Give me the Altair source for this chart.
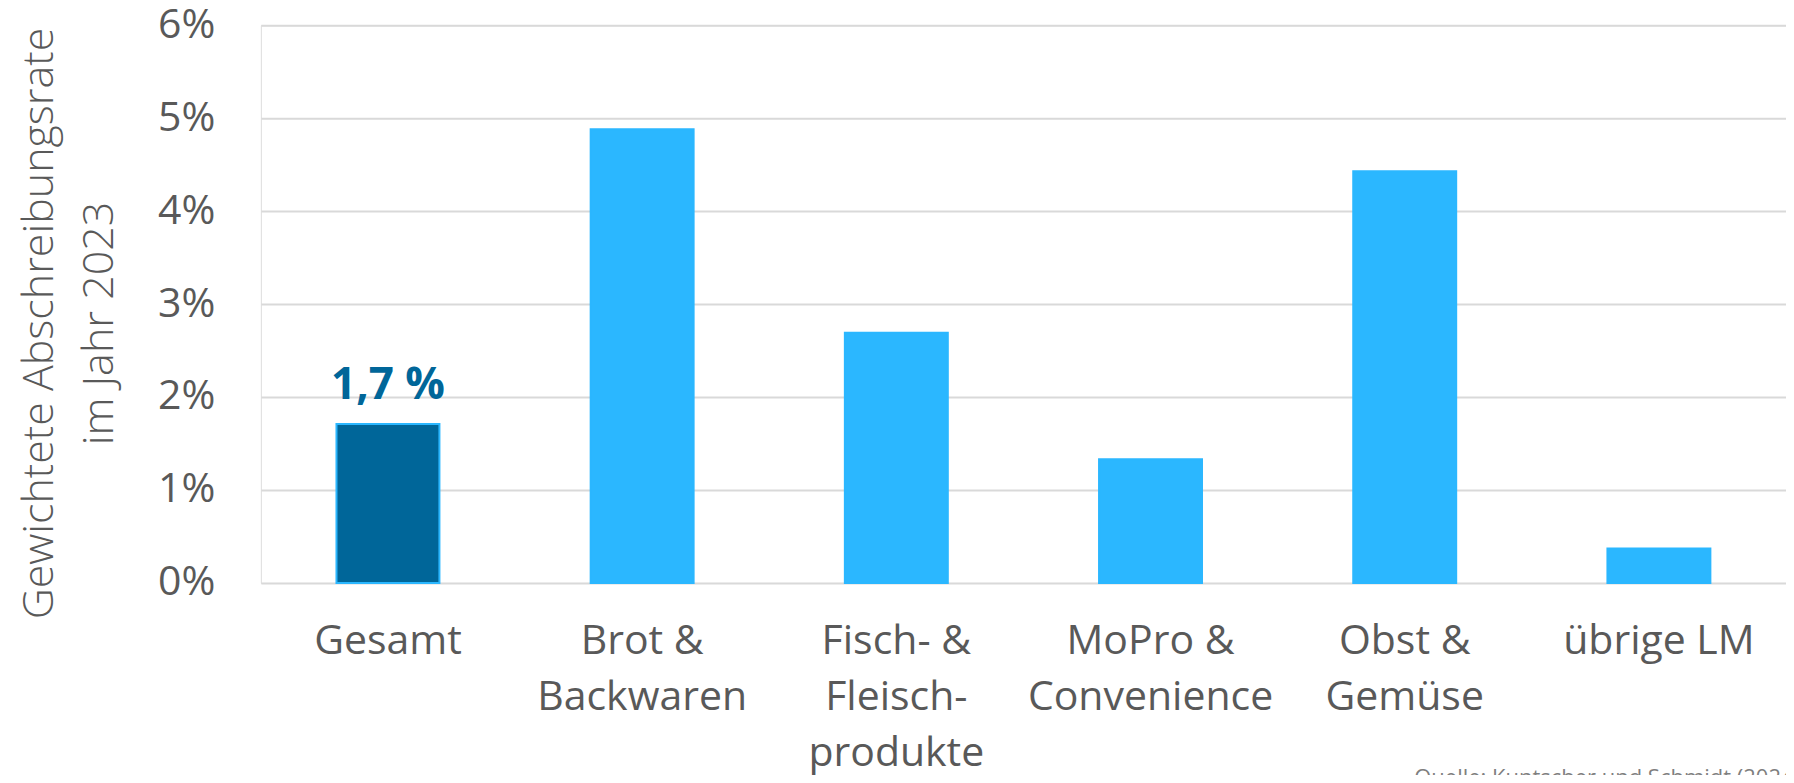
import altair as alt
import pandas as pd

categories = ["Gesamt", "Brot &|Backwaren", "Fisch- &|Fleisch-|produkte",
              "MoPro &|Convenience", "Obst &|Gemüse", "übrige LM"]
values = [0.0171, 0.0488, 0.0269, 0.0133, 0.0443, 0.0037]
highlight_label = "1,7 %"
y_ticks = [0, 0.01, 0.02, 0.03, 0.04, 0.05, 0.06]
y_title = ["Gewichtete Abschreibungsrate", "im Jahr 2023"]
source_text = "Quelle: Kuntscher und Schmidt (2024)"

df = pd.DataFrame({"cat": categories, "val": values})
df["label"] = [highlight_label if c == "Gesamt" else "" for c in categories]

W, H = 1526, 558
FONT = "Open Sans"
GREY = "#595959"

x_enc = alt.X("cat:N", sort=categories,
              scale=alt.Scale(paddingInner=0.595, paddingOuter=0.2975),
              axis=alt.Axis(title=None, labelAngle=0, labelFontSize=41, labelColor=GREY,
                            labelFont=FONT, labelPadding=39, labelLineHeight=56,
                            labelLimit=0,
                            labelExpr="split(datum.label, '|')", ticks=False, domain=False,
                            grid=False, labelBaseline="top"))

y_enc = alt.Y("val:Q", scale=alt.Scale(domain=[0, 0.06], nice=False),
              axis=alt.Axis(values=y_ticks, format=".0%", title=y_title,
                            labelFontSize=41, labelColor=GREY, labelFont=FONT,
                            labelPadding=46, ticks=False, domain=False,
                            gridColor="#D9D9D9", gridWidth=2,
                            titleFont=FONT, titleFontSize=43, titleFontWeight=300,
                            titleColor=GREY, titleLineHeight=60, titlePadding=36,
                            titleY=298))

bars = alt.Chart(df).mark_bar(strokeWidth=2).encode(
    x=x_enc, y=y_enc,
    color=alt.condition(alt.datum.cat == "Gesamt", alt.value("#006699"), alt.value("#2BB7FF")),
    stroke=alt.condition(alt.datum.cat == "Gesamt", alt.value("#2BB7FF"), alt.value("#2BB7FF")),
)

labels = alt.Chart(df).transform_filter(alt.datum.label != "").mark_text(
    font=FONT, fontSize=44, fontWeight="bold", color="#006699", dy=-25, baseline="alphabetic"
).encode(x=alt.X("cat:N", sort=categories), y="val:Q", text="label:N")

src = alt.Chart(pd.DataFrame({"t": [source_text]})).mark_text(
    font=FONT, fontSize=22, color="#7F7F7F", align="right", baseline="alphabetic"
).encode(x=alt.value(1540), y=alt.value(760), text="t:N")

chart = alt.layer(bars, labels, src).properties(
    width=W, height=H,
    autosize=alt.AutoSizeParams(type="none"),
    padding={"left": 253, "top": 17, "right": 0, "bottom": 192},
).configure_view(stroke=None).configure(background="white")

chart.save("out.html", embed_options={"renderer": "svg", "actions": False})
